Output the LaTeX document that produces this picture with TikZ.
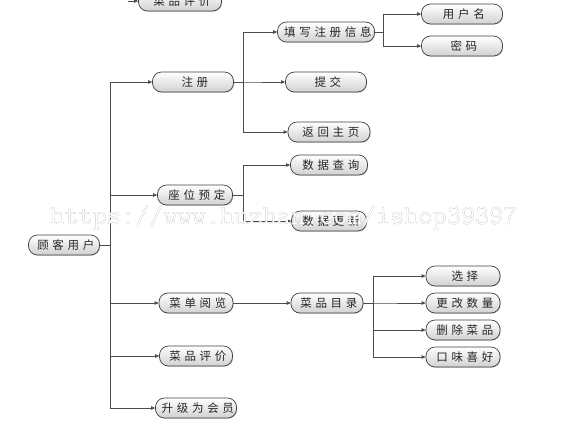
\documentclass[tikz,border=0pt]{standalone}
\usepackage{fontspec}
\usepackage[outline]{contour}
\newfontfamily\cjk[LetterSpace=32]{Noto Sans CJK SC}
\usetikzlibrary{arrows.meta,calc,shadows}
\contourlength{0.7pt}
\begin{document}
\begin{tikzpicture}[x=1pt,y=1pt,
  box/.style={draw=black!75, line width=0.7pt, rounded corners=9pt,
    minimum height=20pt, minimum width=74pt, inner xsep=3pt, inner ysep=0pt,
    top color=white, bottom color=black!18,
    drop shadow={shadow xshift=0.7pt, shadow yshift=-0.7pt, opacity=0.45},
    font=\cjk\fontsize{11.5}{13}\selectfont, text=black!85,
    execute at end node={\kern-3.7pt}},
  arr/.style={draw=black!70, line width=0.8pt, -{Triangle[length=4pt,width=3.5pt]}}]
\clip (0,0) rectangle (570,-432);
% nodes
\node[box, minimum width=83pt] (top) at (180,-1) {菜品评价};
\coordinate (topin) at (128,-1);
\node[box, minimum width=71pt] (root) at (64,-245) {顾客用户};
\node[box, minimum width=81pt] (reg) at (193,-82) {注册};
\node[box, minimum width=75pt] (seat) at (195,-195) {座位预定};
\node[box] (menu) at (196,-303) {菜单阅览};
\node[box, minimum width=73pt] (eval) at (196,-356) {菜品评价};
\node[box, minimum width=81pt] (vip) at (196,-408) {升级为会员};
\node[box, minimum width=97pt] (fill) at (326,-32) {填写注册信息};
\node[box, minimum width=81pt] (sub) at (326,-82) {提交};
\node[box, minimum width=82pt] (back) at (329,-132) {返回主页};
\node[box, minimum width=81pt] (user) at (462,-14) {用户名};
\node[box, minimum width=81pt] (pwd) at (462,-46) {密码};
\node[box, minimum width=77pt] (query) at (329,-165) {数据查询};
\node[box, minimum width=75pt] (update) at (329,-221) {数据更新};
\node[box, minimum width=72pt] (cat) at (327,-303) {菜品目录};
\node[box] (sel) at (463,-276) {选择};
\node[box] (qty) at (463,-303) {更改数量};
\node[box] (del) at (463,-330) {删除菜品};
\node[box] (taste) at (463,-357) {口味喜好};
% branch points
\coordinate (t0) at (110,0);
\coordinate (t1) at (243,0);
\coordinate (t2) at (383,0);
\coordinate (t3) at (373,0);
% connectors
\draw[arr] (topin) -- (top.west);
\foreach \c in {reg,seat,menu,eval,vip}
  \draw[arr] (root.east) -- (root.east -| t0) |- (\c.west);
\foreach \c in {fill,sub,back}
  \draw[arr] (reg.east) -- (reg.east -| t1) |- (\c.west);
\foreach \c in {user,pwd}
  \draw[arr] (fill.east) -- (fill.east -| t2) |- (\c.west);
\foreach \c in {query,update}
  \draw[arr] (seat.east) -- (seat.east -| t1) |- (\c.west);
\draw[arr] (menu.east) -- (cat.west);
\foreach \c in {sel,qty,del,taste}
  \draw[arr] (cat.east) -- (cat.east -| t3) |- (\c.west);
% watermark
\node[font=\ttfamily\fontsize{27.5}{29}\selectfont, inner sep=0pt] (wmark) at (284,-218)
  {\contour{black!48}{\textcolor{white}{https://www.huzhan.com/ishop39397}}};
\end{tikzpicture}
\end{document}
